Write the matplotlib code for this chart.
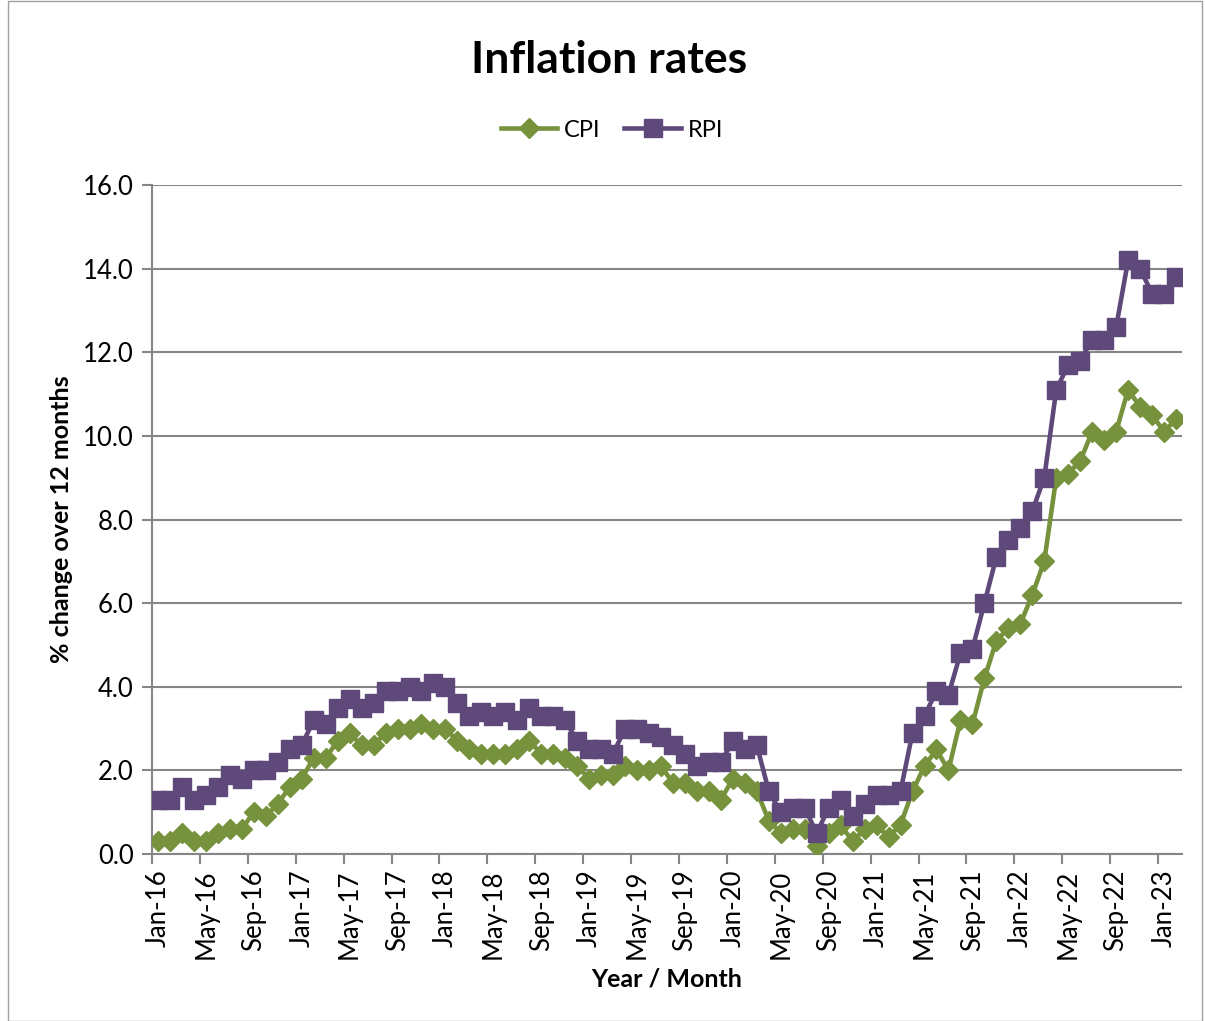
import matplotlib
matplotlib.use("Agg")
import matplotlib.pyplot as plt
from matplotlib.patches import Rectangle
import numpy as np

months = ["Jan", "Feb", "Mar", "Apr", "May", "Jun", "Jul", "Aug", "Sep", "Oct", "Nov", "Dec"]
categories = [f"{m}-{y:02d}" for y in range(16, 24) for m in months][:86]

cpi = [0.3, 0.3, 0.5, 0.3, 0.3, 0.5, 0.6, 0.6, 1.0, 0.9, 1.2, 1.6,
       1.8, 2.3, 2.3, 2.7, 2.9, 2.6, 2.6, 2.9, 3.0, 3.0, 3.1, 3.0,
       3.0, 2.7, 2.5, 2.4, 2.4, 2.4, 2.5, 2.7, 2.4, 2.4, 2.3, 2.1,
       1.8, 1.9, 1.9, 2.1, 2.0, 2.0, 2.1, 1.7, 1.7, 1.5, 1.5, 1.3,
       1.8, 1.7, 1.5, 0.8, 0.5, 0.6, 0.6, 0.2, 0.5, 0.7, 0.3, 0.6,
       0.7, 0.4, 0.7, 1.5, 2.1, 2.5, 2.0, 3.2, 3.1, 4.2, 5.1, 5.4,
       5.5, 6.2, 7.0, 9.0, 9.1, 9.4, 10.1, 9.9, 10.1, 11.1, 10.7, 10.5,
       10.1, 10.4]

rpi = [1.3, 1.3, 1.6, 1.3, 1.4, 1.6, 1.9, 1.8, 2.0, 2.0, 2.2, 2.5,
       2.6, 3.2, 3.1, 3.5, 3.7, 3.5, 3.6, 3.9, 3.9, 4.0, 3.9, 4.1,
       4.0, 3.6, 3.3, 3.4, 3.3, 3.4, 3.2, 3.5, 3.3, 3.3, 3.2, 2.7,
       2.5, 2.5, 2.4, 3.0, 3.0, 2.9, 2.8, 2.6, 2.4, 2.1, 2.2, 2.2,
       2.7, 2.5, 2.6, 1.5, 1.0, 1.1, 1.1, 0.5, 1.1, 1.3, 0.9, 1.2,
       1.4, 1.4, 1.5, 2.9, 3.3, 3.9, 3.8, 4.8, 4.9, 6.0, 7.1, 7.5,
       7.8, 8.2, 9.0, 11.1, 11.7, 11.8, 12.3, 12.3, 12.6, 14.2, 14.0, 13.4,
       13.4, 13.8]

yticks = [0, 2, 4, 6, 8, 10, 12, 14, 16]

FONT = ["Lato", "DejaVu Sans"]
plt.rcParams["font.family"] = FONT

GREEN = "#76923C"
PURPLE = "#5F497A"
GRID = "#868686"

fig = plt.figure(figsize=(12.05, 10.21), dpi=100)
ax = fig.add_axes([152 / 1205, 1 - 854 / 1021, (1182 - 152) / 1205, (854 - 185) / 1021])

x = np.arange(len(categories))
ax.plot(x, cpi, color=GREEN, lw=3.3, marker="D", ms=10, mec=GREEN, mfc=GREEN, label="CPI", zorder=3)
ax.plot(x, rpi, color=PURPLE, lw=3.3, marker="s", ms=13.5, mec=PURPLE, mfc=PURPLE, label="RPI", zorder=3)

ax.set_xlim(-0.5, len(categories) - 0.5)
ax.set_ylim(0, 16)
ax.set_yticks(yticks)
ax.set_yticklabels([f"{v:.1f}" for v in yticks], fontsize=18.5)
ax.yaxis.grid(True, color=GRID, lw=1.5)
ax.set_axisbelow(True)

ax.set_xticks(np.arange(-0.5, len(categories) - 0.5, 4))
ax.set_xticklabels([])
ax.set_xticks(np.arange(0, len(categories), 4), minor=True)
ax.set_xticklabels([categories[i] for i in range(0, len(categories), 4)], minor=True,
                   rotation=90, fontsize=18.5)
ax.tick_params(axis="x", which="major", length=7, width=1.5, color=GRID, direction="out")
ax.tick_params(axis="x", which="minor", length=0, pad=11)
ax.tick_params(axis="y", length=7, width=1.5, color=GRID, pad=6)

for s in ["top", "right"]:
    ax.spines[s].set_visible(False)
for s in ["left", "bottom"]:
    ax.spines[s].set_color(GRID)
    ax.spines[s].set_linewidth(1.5)

ax.set_ylabel("% change over 12 months", fontsize=18, fontweight="bold", labelpad=7)
ax.set_xlabel("Year / Month", fontsize=18, fontweight="bold", labelpad=6)

fig.text(609 / 1205, 1 - 60 / 1021, "Inflation rates", ha="center", va="center",
         fontsize=32, fontweight="bold")

leg = fig.legend(loc="center", bbox_to_anchor=(612 / 1205, 1 - 130 / 1021), ncol=2,
                 frameon=False, fontsize=17, handlelength=2.4, columnspacing=1.0,
                 handletextpad=0.3)

fig.patches.append(Rectangle((8 / 1205, 0.0), 1194 / 1205, 0.999, transform=fig.transFigure,
                             fill=False, edgecolor="#A0A0A0", lw=1))

fig.savefig("out.png", dpi=100)
